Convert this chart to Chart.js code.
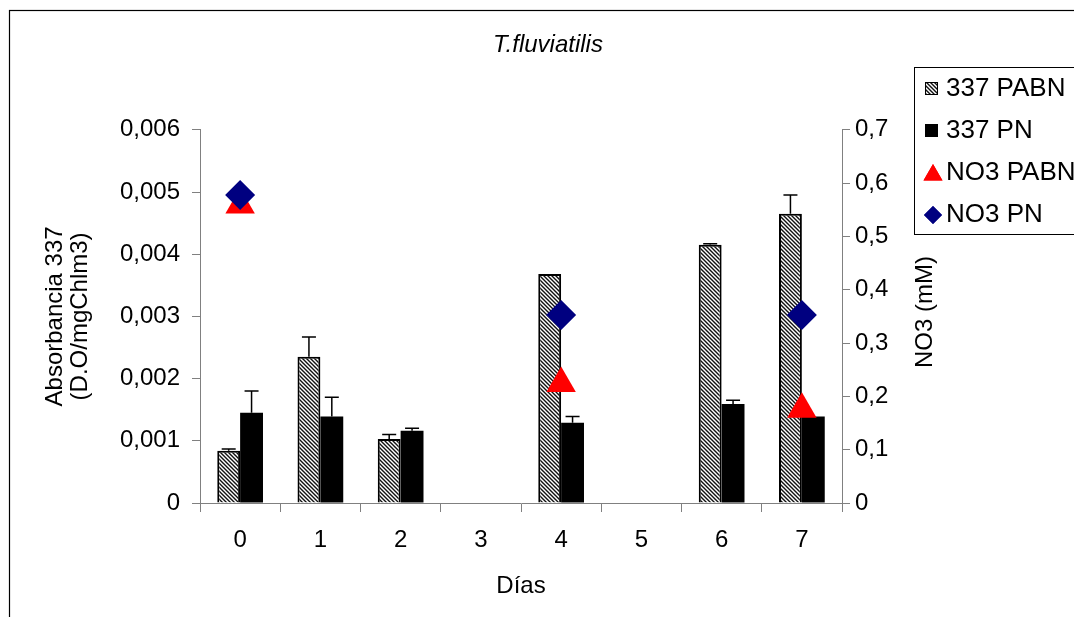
<!DOCTYPE html>
<html>
<head>
<meta charset="utf-8">
<script src="https://cdn.jsdelivr.net/npm/chart.js@4.4.0/dist/chart.umd.min.js"></script>
<style>
  html, body { margin: 0; padding: 0; background: #fff; }
</style>
</head>
<body>
<canvas id="chart" width="1074" height="617"></canvas>
<script>
const days = ['0', '1', '2', '3', '4', '5', '6', '7'];
const abs337PABN = [0.00084, 0.00235, 0.00103, null, 0.00368, null, 0.00415, 0.00465];
const abs337PABNErr = [0.00003, 0.00032, 0.00007, null, 0, null, 0.00002, 0.0003];
const abs337PN = [0.00145, 0.00139, 0.00116, null, 0.00129, null, 0.00159, 0.00139];
const abs337PNErr = [0.00035, 0.00031, 0.00004, null, 0.0001, null, 0.00006, 0];
const no3PABN = [0.559, null, null, null, 0.224, null, null, 0.176];
const no3PN = [0.5775, null, null, null, 0.3525, null, null, 0.3525];

const FONT = 'Arial, "Liberation Sans", sans-serif';
const ctx = document.getElementById('chart').getContext('2d');

// diagonal hatch for the PABN bars
function makeHatch() {
    const c = document.createElement('canvas');
    c.width = 4; c.height = 4;
    const g = c.getContext('2d');
    g.fillStyle = '#fff';
    g.fillRect(0, 0, 4, 4);
    g.strokeStyle = '#111';
    g.lineWidth = 1.4;
    g.beginPath();
    g.moveTo(-1, -1); g.lineTo(5, 5);
    g.moveTo(-1, 3); g.lineTo(1, 5);
    g.moveTo(3, -1); g.lineTo(5, 1);
    g.stroke();
    return ctx.createPattern(c, 'repeat');
}
const hatch = makeHatch();

const fmtComma = (digits) => (v) => v === 0 ? '0' : Number(v).toFixed(digits).replace('.', ',');

// error bars (positive side only) on the bar datasets
const errorBars = {
    id: 'errorBars',
    afterDatasetDraw(chart, args) {
        const ds = chart.data.datasets[args.index];
        if (!ds.errors) return;
        const y = chart.scales.y;
        const c = chart.ctx;
        c.save();
        c.strokeStyle = '#000';
        c.lineWidth = 1.5;
        args.meta.data.forEach((bar, i) => {
            const v = ds.data[i], e = ds.errors[i];
            if (v == null || !e) return;
            const y0 = y.getPixelForValue(v), y1 = y.getPixelForValue(v + e);
            c.beginPath();
            c.moveTo(bar.x, y0); c.lineTo(bar.x, y1);
            c.moveTo(bar.x - 7, y1); c.lineTo(bar.x + 7, y1);
            c.stroke();
        });
        c.restore();
    }
};

// outer frame, right axis title and the boxed legend
const extras = {
    id: 'extras',
    afterDraw(chart) {
        const c = chart.ctx;
        c.save();
        c.strokeStyle = '#000';
        c.lineWidth = 1.2;
        c.strokeRect(9.5, 10.5, 1200, 800);

        // right axis title, reading bottom to top
        c.fillStyle = '#000';
        c.font = '24px ' + FONT;
        c.textAlign = 'center';
        c.textBaseline = 'middle';
        c.translate(925, 312);
        c.rotate(-Math.PI / 2);
        c.fillText(chart.options.scales.y1.title.text, 0, 0);
        c.setTransform(1, 0, 0, 1, 0, 0);

        // legend
        c.lineWidth = 1;
        c.strokeStyle = '#000';
        c.strokeRect(914.5, 67.5, 300, 167);
        c.font = '26px ' + FONT;
        c.textAlign = 'left';
        chart.data.datasets.forEach((ds, i) => {
            const cy = 89 + i * 42;
            if (ds.type === 'bar') {
                c.fillStyle = ds.backgroundColor;
                c.fillRect(925, cy - 7, 13, 13);
                c.strokeStyle = '#000';
                c.lineWidth = 1;
                c.strokeRect(925.5, cy - 6.5, 12, 12);
            } else {
                c.fillStyle = ds.pointBackgroundColor;
                c.strokeStyle = ds.pointBackgroundColor;
                Chart.helpers.drawPoint(c, {
                    pointStyle: ds.pointStyle,
                    radius: ds.pointStyle === 'triangle' ? 11 : 9,
                    rotation: 0,
                    borderWidth: 0
                }, 933, ds.pointStyle === 'triangle' ? cy + 2 : cy);
                c.fill();
            }
            c.fillStyle = '#000';
            c.fillText(ds.label, 946, cy);
        });
        c.restore();
    }
};

new Chart(ctx, {
    type: 'bar',
    data: {
        labels: days,
        datasets: [{
            type: 'bar',
            label: '337 PABN',
            data: abs337PABN,
            errors: abs337PABNErr,
            backgroundColor: hatch,
            borderColor: '#000',
            borderWidth: 2,
            yAxisID: 'y',
            order: 3
        }, {
            type: 'bar',
            label: '337 PN',
            data: abs337PN,
            errors: abs337PNErr,
            backgroundColor: '#000',
            borderColor: '#000',
            borderWidth: 0,
            yAxisID: 'y',
            order: 3
        }, {
            type: 'line',
            label: 'NO3 PABN',
            data: no3PABN,
            showLine: false,
            pointStyle: 'triangle',
            pointRadius: 17,
            pointHoverRadius: 17,
            pointBorderWidth: 0,
            pointBackgroundColor: '#ff0000',
            pointBorderColor: '#ff0000',
            yAxisID: 'y1',
            order: 2
        }, {
            type: 'line',
            label: 'NO3 PN',
            data: no3PN,
            showLine: false,
            pointStyle: 'rectRot',
            pointRadius: 15,
            pointHoverRadius: 15,
            pointBorderWidth: 0,
            pointBackgroundColor: '#000080',
            pointBorderColor: '#000080',
            yAxisID: 'y1',
            order: 1
        }]
    },
    options: {
        responsive: false,
        animation: false,
        categoryPercentage: 0.57,
        barPercentage: 1.0,
        layout: { padding: { left: 22, right: 0, top: 10, bottom: 0 } },
        plugins: {
            legend: { display: false },
            tooltip: { enabled: false },
            title: {
                display: true,
                text: 'T.fluviatilis',
                color: '#000',
                font: { family: FONT, size: 24, style: 'italic', weight: 'normal' },
                padding: { top: 21, bottom: 70 }
            }
        },
        scales: {
            x: {
                grid: { drawOnChartArea: false, tickLength: 9, color: '#808080', offset: true },
                border: { color: '#808080', width: 1 },
                ticks: { color: '#000', padding: 14, font: { family: FONT, size: 24 } },
                title: {
                    display: true,
                    text: 'Días',
                    color: '#000',
                    font: { family: FONT, size: 24 },
                    padding: { top: 0, bottom: 16 }
                },
                afterFit(scale) { scale.height = 114; }
            },
            y: {
                position: 'left',
                min: 0,
                max: 0.006,
                ticks: { stepSize: 0.001, color: '#000', padding: 12, font: { family: FONT, size: 24 }, callback: fmtComma(3) },
                grid: { drawOnChartArea: false, tickLength: 8, color: '#808080' },
                border: { color: '#808080', width: 1 },
                title: {
                    display: true,
                    text: ['Absorbancia 337', '(D.O/mgChlm3)'],
                    color: '#000',
                    font: { family: FONT, size: 24, lineHeight: 1.05 },
                    padding: { top: 21, bottom: 0 }
                },
                afterFit(scale) { scale.width = 178; }
            },
            y1: {
                position: 'right',
                min: 0,
                max: 0.7,
                ticks: { stepSize: 0.1, color: '#000', padding: 5, font: { family: FONT, size: 24 }, callback: fmtComma(1) },
                grid: { drawOnChartArea: false, tickLength: 8, color: '#808080' },
                border: { color: '#808080', width: 1 },
                title: { display: false, text: 'NO3 (mM)' },
                afterFit(scale) { scale.width = 232; }
            }
        }
    },
    plugins: [errorBars, extras]
});
</script>
</body>
</html>
